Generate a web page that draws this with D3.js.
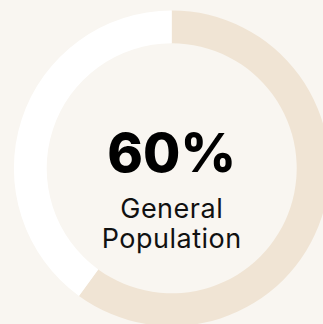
<!DOCTYPE html>
<html>
<head>
<meta charset="utf-8">
<script src="https://cdn.jsdelivr.net/npm/d3@7"></script>
<style>
  html, body { margin: 0; padding: 0; background: #f9f6f1; overflow: hidden; }
  svg { display: block; }
</style>
</head>
<body>
<svg id="chart" width="323" height="324"></svg>
<script>
// Share of the general population, shown as a ring gauge
const segments = ["General Population", "Remainder"];
const values = [60, 40];
const colors = ["#f0e4d4", "#ffffff"];
const headline = "60%";
const labelLines = ["General", "Population"];

const svg = d3.select("#chart");
const cx = 171.7, cy = 168.3;
const outerR = 157.8, innerR = 125;

const pie = d3.pie().sort(null).value(d => d)(values);
const arc = d3.arc().innerRadius(innerR).outerRadius(outerR);
const color = d3.scaleOrdinal().domain(segments).range(colors);

const g = svg.append("g").attr("transform", `translate(${cx},${cy})`);
g.selectAll("path")
  .data(pie)
  .join("path")
  .attr("d", arc)
  .attr("fill", (d, i) => color(segments[i]));

g.append("text")
  .attr("x", 0).attr("y", 3.2)
  .attr("text-anchor", "middle")
  .attr("font-family", "Inter, 'Noto Sans', sans-serif")
  .attr("font-weight", 800)
  .attr("font-size", 54)
  .attr("fill", "#000")
  .text(headline);

g.selectAll("text.label")
  .data(labelLines)
  .join("text")
  .attr("class", "label")
  .attr("x", 0)
  .attr("y", (d, i) => 49.5 + i * 30)
  .attr("text-anchor", "middle")
  .attr("font-family", "Inter, 'Noto Sans', sans-serif")
  .attr("font-weight", 400)
  .attr("font-size", 27)
  .attr("letter-spacing", 0.5)
  .attr("fill", "#111")
  .text(d => d);
</script>
</body>
</html>
